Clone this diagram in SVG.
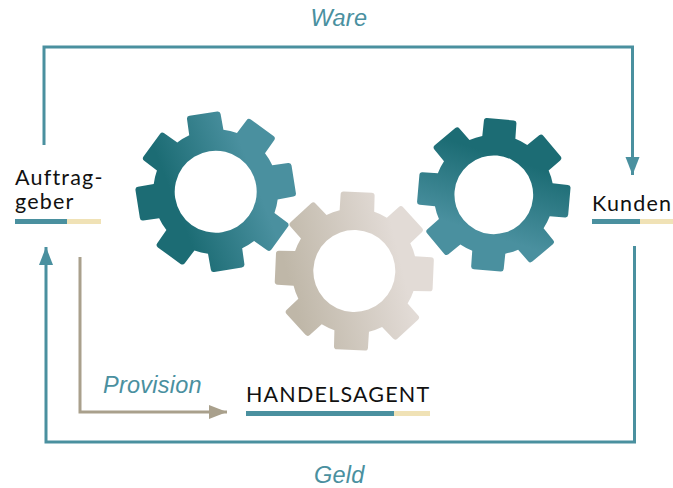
<svg xmlns="http://www.w3.org/2000/svg" width="673" height="488" viewBox="0 0 673 488">
<style>
.c{fill:none;stroke-width:3}
.t{stroke:#4a909f}
.g{stroke:#a9a08c}
.lab{font-family:"Liberation Sans",Arial,sans-serif;font-style:italic;font-size:23.5px;fill:#4a909f;letter-spacing:.25px}
.nm{font-family:Lato,"Open Sans",sans-serif;font-size:21.5px;fill:#111;letter-spacing:1.2px}
.bt{fill:#4a909f}.by{fill:#f0e2b6}
</style>
<defs>
<linearGradient id="g1" gradientUnits="userSpaceOnUse" gradientTransform="rotate(9)" x1="-43" y1="5" x2="34" y2="-25"><stop offset="0" stop-color="#1c6c74"/><stop offset="1" stop-color="#4a909f"/></linearGradient>
<linearGradient id="g2" gradientUnits="userSpaceOnUse" gradientTransform="rotate(-2.5)" x1="-65" y1="12" x2="45" y2="-15"><stop offset="0" stop-color="#bfb7a8"/><stop offset="1" stop-color="#e2dbd6"/></linearGradient>
<linearGradient id="g3" gradientUnits="userSpaceOnUse" gradientTransform="rotate(-5)" x1="20" y1="-36" x2="-5" y2="42"><stop offset="0" stop-color="#1c6c74"/><stop offset="1" stop-color="#4a909f"/></linearGradient>
<marker id="at" markerUnits="userSpaceOnUse" markerWidth="20" markerHeight="16" refX="18" refY="7" orient="auto"><path d="M0 0L18 7L0 14z" fill="#4a909f"/></marker>
<marker id="ag" markerUnits="userSpaceOnUse" markerWidth="20" markerHeight="16" refX="18" refY="7" orient="auto"><path d="M0 0L18 7L0 14z" fill="#a9a08c"/></marker>
<path id="gear" fill-rule="evenodd" d="M-17.3-60L-17-76Q-17-79-14-79L14-79Q17-79 17-76L17.3-60A62.4 62.4 0 0 1 30.2-54.7L41.7-65.8Q43.8-67.9 46-65.8L65.8-46Q67.9-43.8 65.8-41.7L54.7-30.2A62.4 62.4 0 0 1 60-17.3L76-17Q79-17 79-14L79 14Q79 17 76 17L60 17.3A62.4 62.4 0 0 1 54.7 30.2L65.8 41.7Q67.9 43.8 65.8 46L46 65.8Q43.8 67.9 41.7 65.8L30.2 54.7A62.4 62.4 0 0 1 17.3 60L17 76Q17 79 14 79L-14 79Q-17 79-17 76L-17.3 60A62.4 62.4 0 0 1-30.2 54.7L-41.7 65.8Q-43.8 67.9-46 65.8L-65.8 46Q-67.9 43.8-65.8 41.7L-54.7 30.2A62.4 62.4 0 0 1-60 17.3L-76 17Q-79 17-79 14L-79-14Q-79-17-76-17L-60-17.3A62.4 62.4 0 0 1-54.7-30.2L-65.8-41.7Q-67.9-43.8-65.8-46L-46-65.8Q-43.8-67.9-41.7-65.8L-30.2-54.7A62.4 62.4 0 0 1-17.3-60ZM41 0A41 41 0 1 0-41 0A41 41 0 1 0 41 0Z"/>
</defs>
<g id="connectors">
<path class="c t" marker-end="url(#at)" d="M44 145V47H632.5V175"/>
<path class="c t" marker-end="url(#at)" d="M634.5 246V442H46V247"/>
<path class="c g" marker-end="url(#ag)" d="M80 257V412H227"/>
</g>
<g id="gear-left" transform="translate(215.7 191.7) rotate(-9)"><use href="#gear" fill="url(#g1)"/></g>
<g id="gear-right" transform="translate(493.8 194.8) rotate(5) scale(.96)"><use href="#gear" fill="url(#g3)"/></g>
<g id="gear-center" transform="translate(354.3 271) rotate(2.5)"><use href="#gear" fill="url(#g2)"/></g>
<g id="auftraggeber">
<text class="nm" x="15" y="185">Auftrag-</text><text class="nm" x="15" y="209">geber</text>
<rect class="bt" x="15" y="219" width="52" height="5"/><rect class="by" x="67" y="219" width="34" height="5"/>
</g>
<g id="kunden">
<text class="nm" x="592" y="211">Kunden</text>
<rect class="bt" x="592" y="219" width="48" height="5"/><rect class="by" x="640" y="219" width="33" height="5"/>
</g>
<g id="handelsagent">
<text class="nm" x="246" y="402">HANDELSAGENT</text>
<rect class="bt" x="246" y="411" width="148" height="5"/><rect class="by" x="394" y="411" width="36" height="5"/>
</g>
<text class="lab" x="310.5" y="26">Ware</text>
<text class="lab" x="103" y="393">Provision</text>
<text class="lab" x="314" y="483">Geld</text>
</svg>
